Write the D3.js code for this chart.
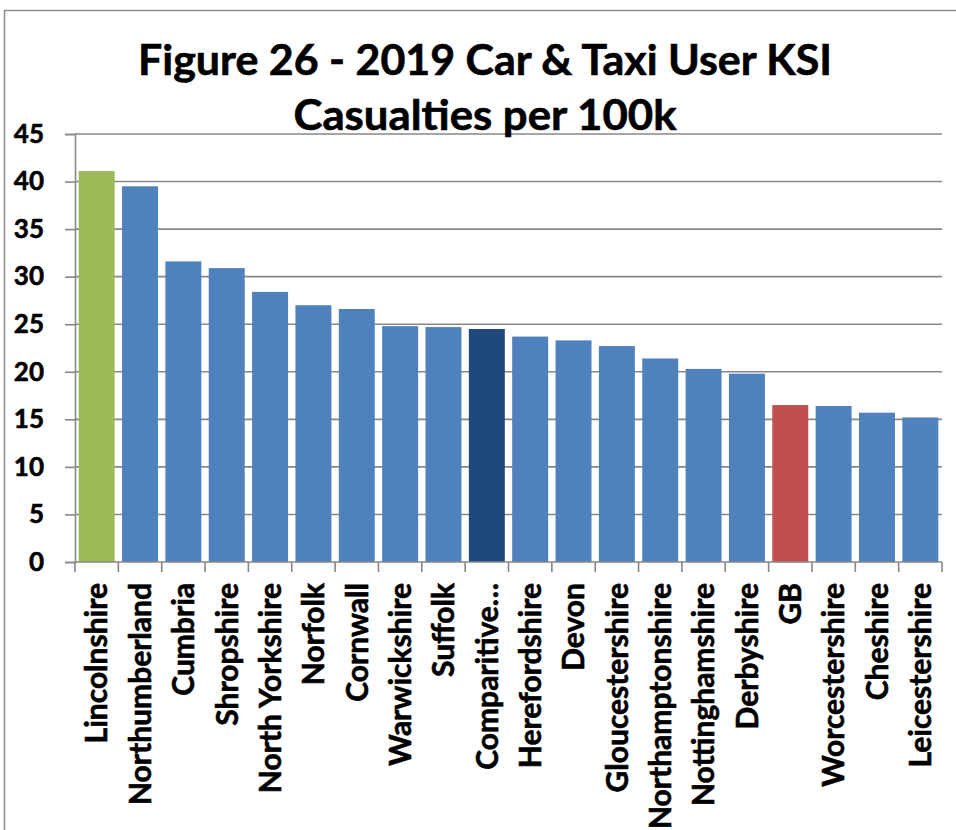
<!DOCTYPE html>
<html>
<head>
<meta charset="utf-8">
<script src="https://cdn.jsdelivr.net/npm/d3@7"></script>
<style>
  html, body { margin: 0; padding: 0; background: #fff; }
  svg { display: block; }
  text { font-family: Lato, "Open Sans", sans-serif; font-weight: bold; fill: #000; stroke: #000; stroke-width: 0.6px; }
</style>
</head>
<body>
<script>
// Car & taxi user KSI casualties per 100k population, 2019
const areas = ["Lincolnshire", "Northumberland", "Cumbria", "Shropshire", "North Yorkshire",
  "Norfolk", "Cornwall", "Warwickshire", "Suffolk", "Comparitive…", "Herefordshire", "Devon",
  "Gloucestershire", "Northamptonshire", "Nottinghamshire", "Derbyshire", "GB",
  "Worcestershire", "Cheshire", "Leicestershire"];
const rates = [41.1, 39.5, 31.6, 30.9, 28.4, 27.0, 26.6, 24.8, 24.7, 24.5, 23.7, 23.3,
  22.7, 21.4, 20.3, 19.8, 16.5, 16.4, 15.7, 15.2];
const yTicks = [0, 5, 10, 15, 20, 25, 30, 35, 40, 45];
const titleLines = ["Figure 26 - 2019 Car & Taxi User KSI", "Casualties per 100k"];

const W = 956, H = 830;
const plot = { left: 75, right: 942, top: 134, bottom: 562 };

const fillFor = name =>
  name === "Lincolnshire" ? "#9BBB59" :
  name === "GB" ? "#C0504D" :
  name === "Comparitive…" ? "#1F497D" : "#4F81BD";

const svg = d3.select("body").append("svg").attr("width", W).attr("height", H);

// chart frame
svg.append("path")
  .attr("d", `M4.5,${H} V10.5 H${W}`)
  .attr("fill", "none").attr("stroke", "#8c8c8c").attr("stroke-width", 1.5);

const x = d3.scaleBand().domain(areas).range([plot.left, plot.right]).paddingInner(0.17).paddingOuter(0.085);
const y = d3.scaleLinear().domain([0, 45]).range([plot.bottom, plot.top]);

// horizontal gridlines
svg.append("g").selectAll("line").data(yTicks.filter(t => t > 0)).join("line")
  .attr("x1", plot.left).attr("x2", plot.right)
  .attr("y1", d => y(d)).attr("y2", d => y(d))
  .attr("stroke", "#878787").attr("stroke-width", 1.6);

// bars
svg.append("g").selectAll("rect").data(areas).join("rect")
  .attr("x", d => x(d))
  .attr("width", x.bandwidth())
  .attr("y", (d, i) => y(rates[i]))
  .attr("height", (d, i) => y(0) - y(rates[i]))
  .attr("fill", fillFor);

// value axis
const yAxis = svg.append("g").attr("transform", `translate(${plot.left},0)`)
  .call(d3.axisLeft(y).tickValues(yTicks).tickSize(10).tickPadding(21).tickFormat(d3.format("d")));
yAxis.select(".domain").attr("stroke", "#878787").attr("stroke-width", 1.6);
yAxis.selectAll(".tick line").attr("stroke", "#878787").attr("stroke-width", 1.6);
yAxis.selectAll(".tick text")
  .style("font-family", "Lato, sans-serif").style("font-weight", "bold")
  .attr("font-size", 26).attr("fill", "#000");

// category axis
const xAxis = svg.append("g").attr("transform", `translate(0,${plot.bottom})`);
xAxis.append("line").attr("x1", plot.left).attr("x2", plot.right)
  .attr("stroke", "#878787").attr("stroke-width", 1.6);
xAxis.selectAll("line.tick").data(d3.range(areas.length + 1)).join("line")
  .attr("class", "tick")
  .attr("x1", i => plot.left + i * (plot.right - plot.left) / areas.length)
  .attr("x2", i => plot.left + i * (plot.right - plot.left) / areas.length)
  .attr("y1", 0).attr("y2", 10)
  .attr("stroke", "#878787").attr("stroke-width", 1.6);
xAxis.selectAll("text").data(areas).join("text")
  .attr("transform", d => `translate(${x(d) + x.bandwidth() / 2},21) rotate(-90)`)
  .attr("text-anchor", "end")
  .attr("dy", "0.36em")
  .attr("font-size", 30)
  .text(d => d);

// title
svg.append("g").selectAll("text").data(titleLines).join("text")
  .attr("x", 485)
  .attr("y", (d, i) => i === 0 ? 75 : 130)
  .attr("text-anchor", "middle")
  .attr("font-size", 42)
  .attr("textLength", (d, i) => i === 0 ? 694 : 383)
  .attr("lengthAdjust", "spacingAndGlyphs")
  .text(d => d);
</script>
</body>
</html>
